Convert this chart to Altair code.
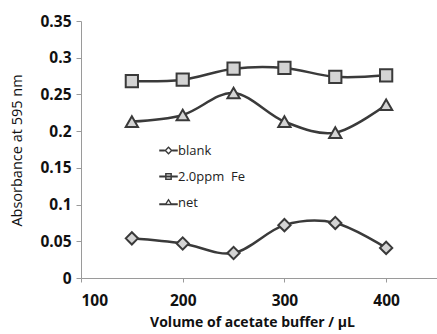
import re
import altair as alt
import pandas as pd

volumes = [150, 200, 250, 300, 350, 400]
blank = [0.054, 0.047, 0.034, 0.072, 0.075, 0.041]
fe_2ppm = [0.268, 0.270, 0.285, 0.286, 0.274, 0.276]
net = [0.213, 0.222, 0.252, 0.213, 0.198, 0.236]
series_names = ["blank", "2.0ppm\u00a0 Fe", "net"]
marker_shapes = ["diamond", "square", "triangle-up"]

rows = []
for name, vals in zip(series_names, [blank, fe_2ppm, net]):
    for v, a in zip(volumes, vals):
        rows.append({"volume": v, "absorbance": a, "series": name})
df = pd.DataFrame(rows)

DARK = "#3a3a3a"
FILL = "#d4d4d4"
FONT = "Open Sans"

x = alt.X("volume:Q", scale=alt.Scale(domain=[100, 450], nice=False),
          axis=alt.Axis(values=[100, 200, 300, 400], title="Volume of acetate buffer / µL",
                        labelFontWeight="bold", titleFontWeight="bold"))
y = alt.Y("absorbance:Q", scale=alt.Scale(domain=[0, 0.35], nice=False),
          axis=alt.Axis(values=[0, 0.05, 0.1, 0.15, 0.2, 0.25, 0.3, 0.35],
                        labelExpr="format(datum.value, '.2~f')",
                        title="Absorbance at 595 nm",
                        labelFontWeight="bold", titleFontWeight="normal"))

lines = alt.Chart(df).mark_line(interpolate="cardinal", tension=0, color=DARK, strokeWidth=2.5).encode(
    x=x, y=y, detail="series:N")

point_layers = []
for name, shp in zip(series_names, marker_shapes):
    point_layers.append(
        alt.Chart(df).transform_filter(alt.datum.series == name).mark_point(
            shape=shp, filled=False, fill=FILL, fillOpacity=1, stroke=DARK,
            strokeWidth=2, size=150, opacity=1).encode(x=x, y=y)
    )


def _scale_path(p, k):
    return re.sub(r"-?\d+(?:\.\d+)?", lambda m: f"{float(m.group()) * k:.3f}", p)


# legend glyphs: line stub + outlined marker (ring drawn as a filled path with a hole)
leg_paths_raw = [
    "M0,-1.35L1.35,0L0,1.35L-1.35,0Z M0,-0.72L-0.72,0L0,0.72L0.72,0Z "
    "M-3,-0.34L-1.2,-0.34L-1.2,0.34L-3,0.34Z M1.2,-0.34L3,-0.34L3,0.34L1.2,0.34Z",
    "M-1.1,-1.1L1.1,-1.1L1.1,1.1L-1.1,1.1Z M-0.62,-0.62L-0.62,0.62L0.62,0.62L0.62,-0.62Z "
    "M-3,-0.34L3,-0.34L3,0.34L-3,0.34Z",
    "M0,-1.3L1.4,0.9L-1.4,0.9Z M0,-0.45L-0.58,0.44L0.58,0.44Z "
    "M-3,0.26L-1.0,0.26L-1.0,0.9L-3,0.9Z M1.0,0.26L3,0.26L3,0.9L1.0,0.9Z",
]
leg_paths = [_scale_path(p, 0.65) for p in leg_paths_raw]

legend_layer = alt.Chart(df).mark_point(filled=True, color=DARK, opacity=1).encode(
    x=alt.value(-300), y=alt.value(-300),
    shape=alt.Shape("series:N", sort=series_names,
                    scale=alt.Scale(domain=series_names, range=leg_paths),
                    legend=alt.Legend(title=None, orient="none", legendX=81, legendY=123,
                                      symbolSize=90, symbolStrokeWidth=0,
                                      symbolFillColor=DARK, symbolOpacity=1,
                                      labelFontSize=13, labelFont=FONT, labelColor="#222",
                                      labelOffset=3, rowPadding=12, padding=0))
)

chart = alt.layer(lines, *point_layers, legend_layer).properties(
    width=356, height=257,
    padding={"left": 81, "top": 21, "right": 0, "bottom": 56},
    autosize=alt.AutoSizeParams(type="none"),
    background="white",
).configure_view(stroke=None).configure_axis(
    grid=False, domainColor="#9a9a9a", tickColor="#9a9a9a", domainWidth=1, tickWidth=1,
    labelFont=FONT, titleFont=FONT, labelColor="#111", titleColor="#111",
    labelFontSize=15.5, titleFontSize=14.5,
).configure_axisY(tickSize=5, labelPadding=5, titleX=-64, titleY=129,
                  titleBaseline="middle").configure_axisX(
    tickSize=4, labelPadding=11, titleY=44, titleX=171, titleBaseline="middle", titleFontSize=14
)

chart.save("out.html", embed_options={"renderer": "svg", "actions": False})
